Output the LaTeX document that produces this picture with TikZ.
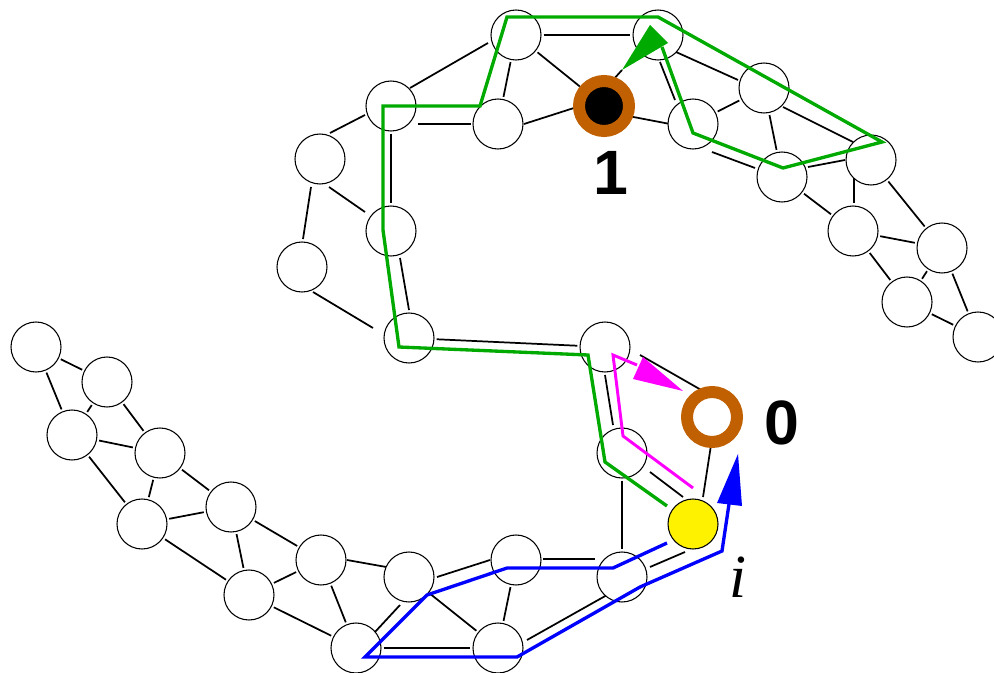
\documentclass[tikz,border=0pt]{standalone}
\usepackage{fontspec}
\setmainfont{Liberation Sans}
\newfontfamily\serifit{Liberation Serif}
\usetikzlibrary{calc}
\pgfdeclarelayer{edges}
\pgfsetlayers{edges,main}
\definecolor{ring}{RGB}{192,96,0}
\definecolor{routeg}{RGB}{0,170,0}
\definecolor{routeb}{RGB}{0,0,255}
\definecolor{routem}{RGB}{255,0,255}
\begin{document}
\begin{tikzpicture}[x=0.75pt,y=-0.75pt,
  vtx/.style={circle,draw=black,line width=0.8pt,fill=white,minimum size=37.5pt,inner sep=0pt,outer sep=2pt},
  term/.style={circle,draw=ring,line width=9pt,minimum size=37.5pt,inner sep=0pt},
  link/.style={line width=1.3pt},
  route/.style={line width=2.5pt,line join=miter,line cap=butt},
  lbl/.style={font=\bfseries\fontsize{47}{47}\selectfont,inner sep=0pt,anchor=base}]
\useasboundingbox (0,0) rectangle (994,673);

% ---- upper band of vertices
\node[vtx] (A) at (516,35) {};
\node[vtx] (B) at (658,35) {};
\node[vtx] (C) at (391,106) {};
\node[vtx] (D) at (498,124) {};
\node[term,fill=black] (one) at (604,106) {};
\node[vtx] (E) at (320,159) {};
\node[vtx] (F) at (391,231) {};
\node[vtx] (G) at (302,267) {};
\node[vtx] (H) at (693,124) {};
\node[vtx] (I) at (764,88) {};
\node[vtx] (J) at (782,177) {};
\node[vtx] (K) at (871,160) {};
\node[vtx] (L) at (853,231) {};
\node[vtx] (M) at (942,248) {};
\node[vtx] (N) at (907,302) {};
\node[vtx] (O) at (978,337) {};

% ---- middle
\node[vtx] (P) at (409,338) {};
\node[vtx] (Q) at (605,347) {};
\node[vtx] (R) at (622,453) {};
\node[term,fill=white] (zero) at (712,417) {};
\node[vtx,fill=yellow] (Y) at (693,524) {};

% ---- lower band of vertices
\node[vtx] (S) at (622,577) {};
\node[vtx] (T) at (516,560) {};
\node[vtx] (U) at (409,577) {};
\node[vtx] (V) at (498,648) {};
\node[vtx] (W) at (356,648) {};
\node[vtx] (X) at (321,560) {};
\node[vtx] (a) at (36,347) {};
\node[vtx] (b) at (107,382) {};
\node[vtx] (c) at (72,435) {};
\node[vtx] (d) at (160,453) {};
\node[vtx] (e) at (142,524) {};
\node[vtx] (f) at (231,507) {};
\node[vtx] (g) at (249,595) {};

% ---- labels
\node[lbl] (lone) at (611,195) {1};
\node[lbl] (lzero) at (782,444) {0};
\node[inner sep=0pt,anchor=base,font=\serifit\itshape\fontsize{46}{46}\selectfont] (li) at (738,597) {i};

% ---- black edges
\begin{pgfonlayer}{edges}
\foreach \u/\v in {A/B,A/D,A/one,C/F,P/Q,R/S,T/V,U/V,X/W,W/V,g/W,g/X,f/X,f/g,
                   e/f,e/g,d/e,d/f,c/d,c/e,b/d,b/c,a/b,a/c,H/I,I/J,J/L,K/M,L/M,
                   L/N,M/N,M/O,N/O}
  \draw[link] (\u) -- (\v);
\draw[link] ($(C)+(27,18)$) -- ($(D)+(-27,0)$);
\draw[link] ($(B)+(2,27)$) -- ($(H)+(-18,-24)$);
\draw[link] ($(H)+(19,28)$) -- ($(J)+(-27,-9)$);
\draw[link] ($(J)+(26,-10)$) -- ($(K)+(-26,0)$);
\draw[link] ($(B)+(18,17)$) -- ($(I)+(-26,-8)$);
\draw[link] ($(I)+(19,19)$) -- ($(K)+(-18,-18)$);
\draw[link] ($(K)+(-17,18)$) -- ($(L)+(1,-28)$);
\draw[link] ($(Q)+(0,28)$) -- ($(R)+(-9,-28)$);
\draw[link] ($(R)+(28,19)$) -- ($(Y)+(-10,-27)$);
\draw[link] ($(Y)+(-8,28)$) -- ($(S)+(28,-10)$);
\draw[link] ($(T)+(27,-1)$) -- ($(S)+(-27,-18)$);
\draw[link] ($(S)+(-15,18)$) -- ($(V)+(29,-8)$);
\draw[link] ($(U)+(-9,28)$) -- ($(W)+(19,-16)$);
\draw[link] ($(U)+(28,0)$) -- ($(T)+(-26,0)$);
\draw[link] ($(F)+(9,27)$) -- ($(P)+(0,-28)$);
\draw[link] ($(X)+(26,0)$) -- ($(U)+(-17,-9)$);
\draw[link] ($(D)+(26,0)$) -- ($(one)+(-27,1)$);
\draw[link] ($(one)+(19,9)$) -- ($(H)+(-23,0)$);
\draw[link] ($(C)+(19,-18)$) -- ($(A)+(-28,8)$);
\draw[link] ($(E)+(10,-26)$) -- ($(C)+(-26,9)$);
\draw[link] ($(E)+(9,28)$) -- ($(F)+(-26,-19)$);
\draw[link] ($(E)+(-9,28)$) -- ($(G)+(1,-28)$);
\draw[link] ($(G)+(11,25)$) -- ($(P)+(-36,-10)$);
\draw[link] ($(Q)+(35,8)$) -- ($(zero)+(-9,-26)$);
\draw[link] ($(zero)+(-1,28)$) -- ($(Y)+(10,-27)$);
\draw[link] ($(one)+(9,-26)$) -- ($(one)+(18,-36)$);
\end{pgfonlayer}

% ---- green route
\draw[route,routeg] (667,506) -- (605,462) -- (588,355) -- (399,347) -- (383,230)
  -- (383,106) -- (480,106) -- (507,17) -- (658,17) -- (882,142) -- (783,168)
  -- (693,133) -- (662,47);
\fill[routeg] (650,25) -- (622,70) -- (668,43) -- cycle;

% ---- magenta route
\draw[route,routem,line width=2.2pt] (693,488) -- (623,436) -- (613,355) -- (637,365);
\fill[routem] (683,391) -- (633,379) -- (643,357) -- cycle;

% ---- blue route
\draw[route,routeb] (667,543) -- (613,568) -- (507,568) -- (427,595) -- (365,657)
  -- (517,657) -- (640,587) -- (722,551) -- (729,504);
\fill[routeb] (738,454) -- (717,503) -- (742,506) -- cycle;
\end{tikzpicture}
\end{document}
